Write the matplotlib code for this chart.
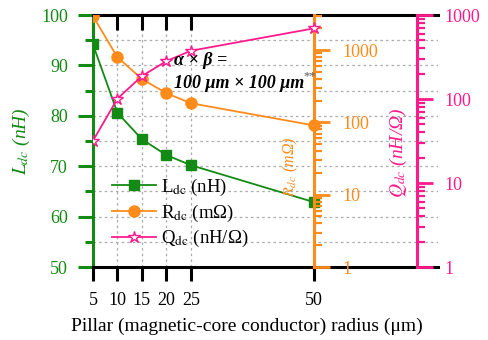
import matplotlib
matplotlib.use("Agg")
import matplotlib.pyplot as plt
import matplotlib.lines as mlines
from matplotlib.ticker import MultipleLocator, LogLocator, NullFormatter
from matplotlib.lines import Line2D

plt.rcParams['font.family'] = ['Liberation Serif', 'DejaVu Serif']
plt.rcParams['mathtext.fontset'] = 'stix'

# data
radius = [5, 10, 15, 20, 25, 50]
l_dc = [94.2, 80.6, 75.35, 72.2, 70.2, 62.9]        # nH
r_dc = [2960, 796, 398, 253, 184, 91]               # mOhm
q_dc = [31.8, 101, 188, 283, 376, 693]              # nH/Ohm
x_ticks = [5, 10, 15, 20, 25, 50]

GREEN = '#138a13'
ORANGE = '#ff8c1a'
PINK = '#ff1a8c'
FS = 14      # labels
TFS = 13     # tick labels

fig = plt.figure(figsize=(4.89, 3.40), dpi=100)
ax = fig.add_axes([0.190, 0.2147, 0.706, 0.741])
ax2 = ax.twinx()
ax3 = ax.twinx()

# host axis: L_dc
ax.plot(radius, l_dc, color=GREEN, lw=1.3, marker='s', ms=6.5)
ax.set_xlim(5, 75.4)
ax.set_ylim(50, 100)
ax.set_xticks(x_ticks)
ax.yaxis.set_major_locator(MultipleLocator(10))
ax.yaxis.set_minor_locator(MultipleLocator(5))
ax.grid(True, which='both', axis='y', color='#aaaaaa', ls=(0, (2, 2.5)), lw=0.9)
ax.grid(True, which='major', axis='x', color='#aaaaaa', ls=(0, (2, 2.5)), lw=0.9)
ax.set_axisbelow(True)
for s in ['top', 'bottom']:
    ax.spines[s].set_linewidth(2.2)
    ax.spines[s].set_color('black')
ax.spines['right'].set_visible(False)
ax.spines['left'].set_color(GREEN)
ax.spines['left'].set_linewidth(2.2)
ax.tick_params(axis='y', which='major', direction='out', length=11, width=2.2,
               color=GREEN, labelcolor=GREEN, labelsize=TFS, pad=7)
ax.tick_params(axis='y', which='minor', direction='out', length=5.5, width=2.2, color=GREEN)
ax.tick_params(axis='x', which='major', direction='out', length=10, width=2.2,
               color='black', labelsize=TFS, pad=8, top=True)
# top ticks point into the plot, bottom ones out
for t in ax.xaxis.get_major_ticks():
    t.tick2line.set_marker(mlines.TICKDOWN)
    t.tick2line.set_markersize(11)
ax.set_xlabel('Pillar (magnetic-core conductor) radius (μm)', fontsize=FS)
ax.xaxis.set_label_coords(0.446, -0.2)
ax.text(-0.206, 0.5, r'$L_{dc}$ (nH)', transform=ax.transAxes, rotation=90,
        ha='center', va='center', color=GREEN, fontsize=FS, style='italic')

# R_dc axis sitting at x = 50
ax2.plot(radius, r_dc, color=ORANGE, lw=1.3, marker='o', ms=8)
ax2.set_yscale('log')
ax2.set_ylim(1, 3050)
ax2.spines['right'].set_position(('data', 50))
ax2.spines['right'].set_color(ORANGE)
ax2.spines['right'].set_linewidth(2.2)
for s in ['left', 'top', 'bottom']:
    ax2.spines[s].set_visible(False)
ax2.yaxis.set_major_locator(LogLocator(base=10, numticks=10))
ax2.yaxis.set_minor_locator(LogLocator(base=10, subs=range(2, 10), numticks=10))
ax2.yaxis.set_minor_formatter(NullFormatter())
ax2.tick_params(axis='y', which='major', direction='out', length=11.5, width=2.0,
                color=ORANGE, labelcolor=ORANGE, labelsize=TFS, pad=9)
ax2.tick_params(axis='y', which='minor', direction='out', length=5.5, width=1.6, color=ORANGE)
ax2.yaxis.set_major_formatter(plt.FuncFormatter(lambda v, p: '%d' % round(v)))
ax.text(0.571, 0.397, r'$R_{dc}$ (mΩ)', transform=ax.transAxes, rotation=90,
        ha='center', va='center', color=ORANGE, fontsize=11.5, style='italic')

# Q_dc axis
ax3.plot(radius, q_dc, color=PINK, lw=1.3, marker='*', ms=9, mfc='white',
         mec=PINK, mew=1.0)
ax3.set_yscale('log')
ax3.set_ylim(1, 1000)
ax3.spines['right'].set_position(('axes', 0.939))
ax3.spines['right'].set_color(PINK)
ax3.spines['right'].set_linewidth(2.2)
for s in ['left', 'top', 'bottom']:
    ax3.spines[s].set_visible(False)
ax3.yaxis.set_minor_locator(LogLocator(base=10, subs=range(2, 10), numticks=10))
ax3.yaxis.set_minor_formatter(NullFormatter())
ax3.yaxis.set_major_formatter(plt.FuncFormatter(lambda v, p: '%d' % round(v)))
ax3.tick_params(axis='y', which='major', direction='out', length=11.5, width=2.0,
                color=PINK, labelcolor=PINK, labelsize=TFS, pad=8)
ax3.tick_params(axis='y', which='minor', direction='out', length=5.5, width=1.6, color=PINK)
ax.text(0.884, 0.452, r'$Q_{dc}$ (nH/Ω)', transform=ax.transAxes, rotation=90,
        ha='center', va='center', color=PINK, fontsize=FS, style='italic')

# note
ax3.text(21.5, 91.0, 'α × β =', transform=ax.transData, fontsize=13,
         weight='bold', style='italic', va='center', ha='left')
ax3.text(21.5, 86.5, '100 μm × 100 μm', transform=ax.transData, fontsize=13,
         weight='bold', style='italic', va='center', ha='left')
ax3.text(48.0, 87.8, '**', transform=ax.transData, fontsize=9,
         color='#555555', va='center', ha='left', zorder=10)

handles = [
    Line2D([], [], color=GREEN, lw=1.3, marker='s', ms=6.5),
    Line2D([], [], color=ORANGE, lw=1.3, marker='o', ms=8),
    Line2D([], [], color=PINK, lw=1.3, marker='*', ms=9, mfc='white', mec=PINK, mew=1.0),
]
labels = [r'L$_{\rm dc}$ (nH)', r'R$_{\rm dc}$ (mΩ)', r'Q$_{\rm dc}$ (nH/Ω)']
ax3.legend(handles, labels, loc='lower left', bbox_to_anchor=(0.035, 0.04),
           frameon=False, fontsize=13.5, handlelength=2.3, handletextpad=0.3,
           labelspacing=0.25, borderaxespad=0)

fig.savefig('out.png', dpi=100)
